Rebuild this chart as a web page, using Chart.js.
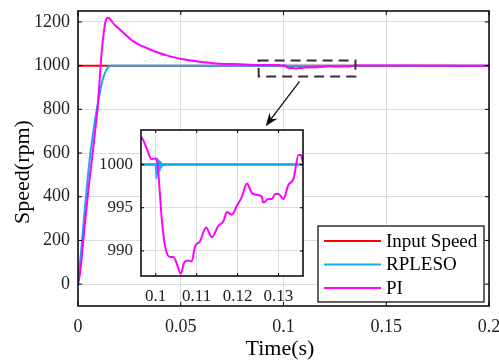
<!DOCTYPE html>
<html>
<head>
<meta charset="utf-8">
<script src="https://cdn.jsdelivr.net/npm/chart.js@4/dist/chart.umd.min.js"></script>
<style>
  html, body { margin: 0; padding: 0; background: #fff; }
  #wrap { position: relative; width: 499px; height: 361px; }
  #mainChart { position: absolute; left: 0; top: 0; }
  #zoomChart { position: absolute; left: 88px; top: 122px; }
</style>
</head>
<body>
<div id="wrap">
  <canvas id="mainChart" width="499" height="361"></canvas>
  <canvas id="zoomChart" width="220" height="190"></canvas>
</div>
<script>
// ==========================================
// data
// ==========================================

const seriesNames = ["Input Speed", "RPLESO", "PI"];

const inputTime = [0, 0.2];
const inputSpeed = [1000, 1000];

const rplesoTime = [0, 0.0015, 0.003, 0.0045, 0.0062, 0.0078, 0.009, 0.0105, 0.012, 0.0135, 0.015, 0.0162,
    0.05, 0.1, 0.1002, 0.1004, 0.1006, 0.1008, 0.101, 0.1012, 0.1014, 0.1016, 0.1019, 0.1022, 0.15, 0.2];
const rplesoSpeed = [0, 150, 310, 465, 612, 720, 790, 870, 935, 975, 995, 1000,
    1000, 1000, 998.4, 1000.7, 998.9, 1000.5, 999.3, 1000.3, 999.7, 1000.1, 999.9, 1000, 1000, 1000];

const piTime = [0, 0.001, 0.0025, 0.0037, 0.0055, 0.0073, 0.0088, 0.0095, 0.0105, 0.0115, 0.0126, 0.0135,
    0.0145, 0.0155, 0.0175, 0.0204, 0.0235, 0.0268, 0.031, 0.035, 0.043, 0.0511, 0.0592, 0.0673, 0.0786,
    0.088, 0.094,
    0.0964, 0.0978, 0.099, 0.0998, 0.1004, 0.1009, 0.1015, 0.1023, 0.1035, 0.1043, 0.1051, 0.1061, 0.1069,
    0.1077, 0.1088, 0.1096, 0.1108, 0.1123, 0.1137, 0.1153, 0.1165, 0.1174, 0.1186, 0.1198, 0.121, 0.1223,
    0.1235, 0.1247, 0.1259, 0.1263, 0.1275, 0.1284, 0.1292, 0.13, 0.1312, 0.1324, 0.1337, 0.1349, 0.1355,
    0.136, 0.14, 0.15, 0.2];
const piSpeed = [0, 50, 190, 310, 470, 612, 740, 800, 930, 1060, 1156, 1205,
    1219, 1214, 1190, 1165, 1138, 1112, 1090, 1074, 1047, 1029, 1018, 1010, 1006,
    1003, 1002.5,
    1003.2, 1001.85, 1000.6, 1000.7, 1000.3, 997.4, 993.6, 990.5, 989.3, 989.3, 988.6, 987.35, 988.6,
    988.9, 988.8, 990.5, 991.1, 992.7, 991.6, 992.9, 993.4, 994.5, 994.2, 995.2, 996.2, 997.8,
    996.7, 996.5, 996.3, 995.6, 996.0, 996.0, 996.6, 996.6, 996.0, 997.6, 998.4, 1001.1, 1001.1,
    1000.3, 1000.8, 1000.2, 1000];

const xTicks = [0, 0.05, 0.1, 0.15, 0.2];
const yTicks = [0, 200, 400, 600, 800, 1000, 1200];
const zoomXTicks = [0.1, 0.11, 0.12, 0.13];
const zoomYTicks = [990, 995, 1000];

// ==========================================
// helpers
// ==========================================

const colors = ["#ff0000", "#19aaf0", "#ff00ff"];
const serif = "'Liberation Serif', 'DejaVu Serif', serif";

function points(t, v) {
    return t.map((x, i) => ({ x: x, y: v[i] }));
}

function buildDatasets() {
    return [
        { label: seriesNames[2], data: points(piTime, piSpeed), borderColor: colors[2], order: 0, cubicInterpolationMode: "monotone" },
        { label: seriesNames[1], data: points(rplesoTime, rplesoSpeed), borderColor: colors[1], order: 1, cubicInterpolationMode: "monotone" },
        { label: seriesNames[0], data: points(inputTime, inputSpeed), borderColor: colors[0], order: 2 }
    ];
}

// fixed axis size, no extra room for the tick labels
function fixSize(key, px) {
    return s => {
        s[key] = px;
        s.paddingTop = s.paddingBottom = s.paddingLeft = s.paddingRight = 0;
    };
}

function innerTicks(chart, xs, ys, len) {
    const ctx = chart.ctx, a = chart.chartArea;
    const sx = chart.scales.x, sy = chart.scales.y;
    ctx.save();
    ctx.strokeStyle = "#000";
    ctx.lineWidth = 1;
    ctx.beginPath();
    xs.forEach(v => {
        const p = sx.getPixelForValue(v);
        ctx.moveTo(p, a.bottom); ctx.lineTo(p, a.bottom - len);
        ctx.moveTo(p, a.top); ctx.lineTo(p, a.top + len);
    });
    ys.forEach(v => {
        const p = sy.getPixelForValue(v);
        ctx.moveTo(a.left, p); ctx.lineTo(a.left + len, p);
        ctx.moveTo(a.right, p); ctx.lineTo(a.right - len, p);
    });
    ctx.stroke();
    ctx.restore();
}

// ==========================================
// main chart
// ==========================================

const mainDecor = {
    id: "mainDecor",
    afterDraw(chart) {
        const ctx = chart.ctx, a = chart.chartArea;
        const sx = chart.scales.x, sy = chart.scales.y;

        innerTicks(chart, xTicks, yTicks, 4);

        ctx.save();
        ctx.strokeStyle = "#000";
        ctx.lineWidth = 1.5;
        ctx.strokeRect(a.left, a.top, a.right - a.left, a.bottom - a.top);

        // dashed box round the zoomed region
        const bx0 = sx.getPixelForValue(0.0879), bx1 = sx.getPixelForValue(0.135);
        const by0 = sy.getPixelForValue(1023), by1 = sy.getPixelForValue(950);
        ctx.strokeStyle = "#333";
        ctx.lineWidth = 2;
        ctx.setLineDash([10, 6]);
        ctx.strokeRect(bx0, by0, bx1 - bx0, by1 - by0);
        ctx.setLineDash([]);

        // arrow to the inset
        const ax0 = sx.getPixelForValue(0.1078), ay0 = sy.getPixelForValue(928);
        const ax1 = sx.getPixelForValue(0.0913), ay1 = sy.getPixelForValue(723);
        const ang = Math.atan2(ay1 - ay0, ax1 - ax0);
        ctx.strokeStyle = "#111";
        ctx.lineWidth = 1.3;
        ctx.beginPath();
        ctx.moveTo(ax0, ay0);
        ctx.lineTo(ax1 - 6 * Math.cos(ang), ay1 - 6 * Math.sin(ang));
        ctx.stroke();
        ctx.fillStyle = "#111";
        ctx.beginPath();
        ctx.moveTo(ax1, ay1);
        ctx.lineTo(ax1 - 13 * Math.cos(ang) + 5 * Math.sin(ang), ay1 - 13 * Math.sin(ang) - 5 * Math.cos(ang));
        ctx.lineTo(ax1 - 9 * Math.cos(ang), ay1 - 9 * Math.sin(ang));
        ctx.lineTo(ax1 - 13 * Math.cos(ang) - 5 * Math.sin(ang), ay1 - 13 * Math.sin(ang) + 5 * Math.cos(ang));
        ctx.closePath();
        ctx.fill();

        // legend
        const lx = 318, ly = 226, lw = 166, lh = 76;
        ctx.fillStyle = "#fff";
        ctx.fillRect(lx, ly, lw, lh);
        ctx.strokeStyle = "#000";
        ctx.lineWidth = 1.2;
        ctx.strokeRect(lx, ly, lw, lh);
        const rows = [241, 264.5, 288];
        ctx.font = "19px " + serif;
        ctx.textBaseline = "middle";
        ctx.textAlign = "left";
        seriesNames.forEach((name, i) => {
            ctx.strokeStyle = colors[i];
            ctx.lineWidth = 2;
            ctx.beginPath();
            ctx.moveTo(324, rows[i]);
            ctx.lineTo(381, rows[i]);
            ctx.stroke();
            ctx.fillStyle = "#000";
            ctx.fillText(name, 386, rows[i] + 1);
        });

        // axis titles
        ctx.font = "22px " + serif;
        ctx.textAlign = "center";
        ctx.fillText("Time(s)", 280, 349);
        ctx.translate(23, 172);
        ctx.rotate(-Math.PI / 2);
        ctx.fillText("Speed(rpm)", 0, 0);
        ctx.restore();
    }
};

new Chart(document.getElementById("mainChart"), {
    type: "line",
    data: { datasets: buildDatasets() },
    options: {
        responsive: false,
        animation: false,
        events: [],
        layout: { padding: { top: 11, right: 10, left: 0, bottom: 0 } },
        elements: { point: { radius: 0 }, line: { borderWidth: 2 } },
        plugins: { legend: { display: false }, tooltip: { enabled: false } },
        scales: {
            x: {
                type: "linear", min: 0, max: 0.2,
                afterBuildTicks: s => { s.ticks = xTicks.map(v => ({ value: v })); },
                afterFit: fixSize("height", 55),
                grid: { color: "#dcdcdc", drawTicks: false },
                border: { display: false },
                ticks: { padding: 10, color: "#222", font: { family: serif, size: 18 }, callback: v => String(v), maxRotation: 0 }
            },
            y: {
                type: "linear", min: -100, max: 1250,
                afterBuildTicks: s => { s.ticks = yTicks.map(v => ({ value: v })); },
                afterFit: fixSize("width", 78),
                grid: { color: "#dcdcdc", drawTicks: false },
                border: { display: false },
                ticks: { padding: 8, color: "#222", font: { family: serif, size: 18 }, callback: v => String(v) }
            }
        }
    },
    plugins: [mainDecor]
});

// ==========================================
// zoomed inset
// ==========================================

const zoomDecor = {
    id: "zoomDecor",
    beforeDraw(chart) {
        const ctx = chart.ctx, a = chart.chartArea;
        ctx.save();
        ctx.fillStyle = "#fff";
        ctx.fillRect(a.left, a.top, a.right - a.left, a.bottom - a.top);
        ctx.restore();
    },
    afterDraw(chart) {
        const ctx = chart.ctx, a = chart.chartArea;
        innerTicks(chart, zoomXTicks, zoomYTicks, 3);
        ctx.save();
        ctx.strokeStyle = "#000";
        ctx.lineWidth = 1.5;
        ctx.strokeRect(a.left, a.top, a.right - a.left, a.bottom - a.top);
        ctx.restore();
    }
};

new Chart(document.getElementById("zoomChart"), {
    type: "line",
    data: { datasets: buildDatasets() },
    options: {
        responsive: false,
        animation: false,
        events: [],
        layout: { padding: { top: 8, right: 5, left: 0, bottom: 0 } },
        elements: { point: { radius: 0 }, line: { borderWidth: 2 } },
        plugins: { legend: { display: false }, tooltip: { enabled: false } },
        scales: {
            x: {
                type: "linear", min: 0.0964, max: 0.136,
                afterBuildTicks: s => { s.ticks = zoomXTicks.map(v => ({ value: v })); },
                afterFit: fixSize("height", 36),
                grid: { color: "#dcdcdc", drawTicks: false },
                border: { display: false },
                ticks: { padding: 10, color: "#222", font: { family: serif, size: 17 }, callback: v => String(v), maxRotation: 0 }
            },
            y: {
                type: "linear", min: 987.1, max: 1004,
                afterBuildTicks: s => { s.ticks = zoomYTicks.map(v => ({ value: v })); },
                afterFit: fixSize("width", 53),
                grid: { color: "#dcdcdc", drawTicks: false },
                border: { display: false },
                ticks: { padding: 8, color: "#222", font: { family: serif, size: 17 }, callback: v => String(v) }
            }
        }
    },
    plugins: [zoomDecor]
});
</script>
</body>
</html>
